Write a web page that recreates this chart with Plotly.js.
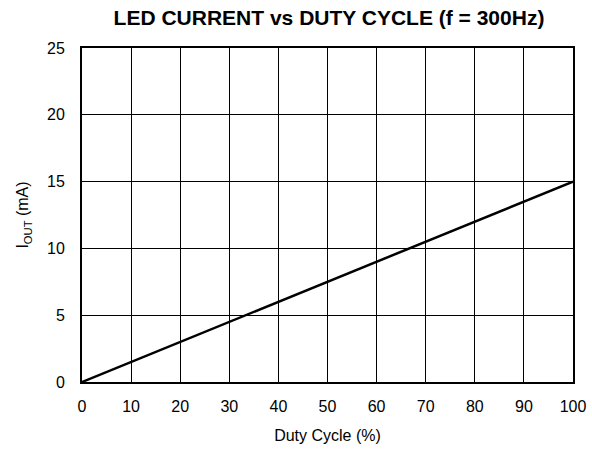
<!DOCTYPE html>
<html><head><meta charset="utf-8">
<script src="https://cdn.plot.ly/plotly-3.0.1.min.js"></script>
<style>html,body{margin:0;padding:0;background:#fff}#c{width:592px;height:451px}</style>
</head><body><div id="c"></div>
<script>
const dutyCycle = [0, 10, 20, 30, 40, 50, 60, 70, 80, 90, 100];
const ledCurrent = [0, 1.5, 3.0, 4.5, 6.0, 7.5, 9.0, 10.5, 12.0, 13.5, 15.0];
const xTicks = [0, 10, 20, 30, 40, 50, 60, 70, 80, 90, 100];
const yTicks = [0, 5, 10, 15, 20, 25];

const font = 'Liberation Sans, Arial, Helvetica, sans-serif';
Plotly.newPlot('c', [{
  x: dutyCycle, y: ledCurrent, type: 'scatter', mode: 'lines',
  line: {color: '#000', width: 2.5}, hoverinfo: 'skip'
}], {
  width: 592, height: 451,
  margin: {l: 82, r: 19, t: 48, b: 69},
  paper_bgcolor: '#fff', plot_bgcolor: '#fff',
  showlegend: false,
  font: {family: font, color: '#000', size: 16},
  title: {text: '<b>LED CURRENT vs DUTY CYCLE (f = 300Hz)</b>', font: {family: font, size: 21, color: '#000'},
    x: 329 / 592, xanchor: 'center', y: 1 - 18 / 451, yanchor: 'middle'},
  xaxis: {
    range: [0, 100], tickvals: xTicks, ticktext: xTicks.map(String),
    showgrid: true, gridcolor: '#000', gridwidth: 1,
    showline: true, linecolor: '#000', linewidth: 2, mirror: true,
    ticks: '', ticklen: 0, ticklabelstandoff: 9, zeroline: false, fixedrange: true,
    tickfont: {size: 16},
    title: {text: 'Duty Cycle (%)', font: {size: 16}, standoff: 16}
  },
  yaxis: {
    range: [0, 25], tickvals: yTicks, ticktext: yTicks.map(String),
    showgrid: true, gridcolor: '#000', gridwidth: 1,
    showline: true, linecolor: '#000', linewidth: 2, mirror: true,
    ticks: '', ticklen: 0, ticklabelstandoff: 12, zeroline: false, fixedrange: true,
    tickfont: {size: 16},
    title: {text: 'I<sub>OUT</sub> (mA)', font: {size: 16}, standoff: 14}
  }
}, {staticPlot: true, displayModeBar: false});
</script></body></html>
